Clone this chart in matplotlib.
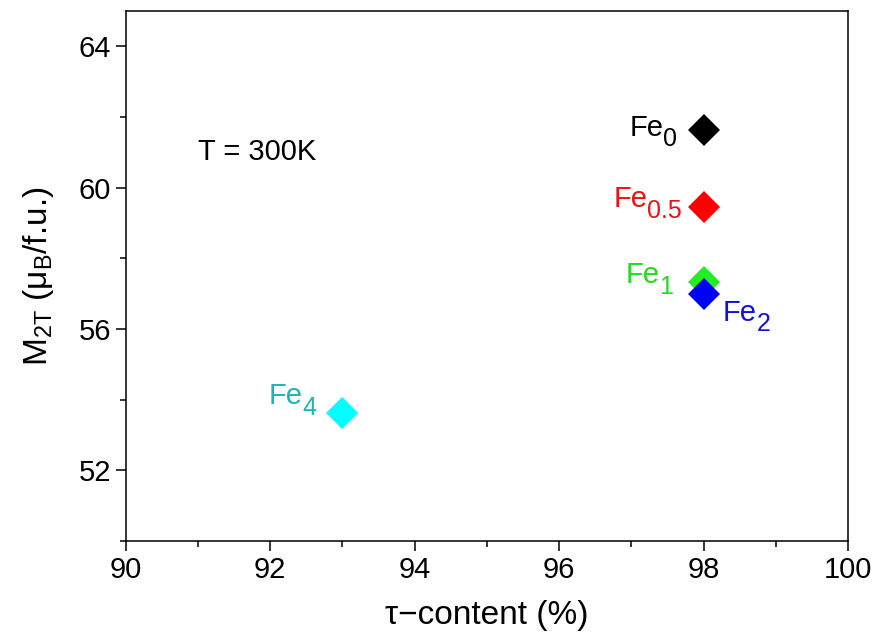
import numpy as np
import matplotlib
matplotlib.use('Agg')
import matplotlib.pyplot as plt
from matplotlib.ticker import MultipleLocator

plt.rcParams['font.family'] = ['Liberation Sans', 'DejaVu Sans']
plt.rcParams['mathtext.default'] = 'regular'
plt.rcParams['mathtext.fontset'] = 'custom'
plt.rcParams['mathtext.rm'] = 'Liberation Sans'

# data
subscripts = ['0', '0.5', '1', '2', '4']
tau_content = [98, 98, 98, 98, 93]
m2t = [61.62, 59.44, 57.33, 56.98, 53.63]
marker_colors = ['#000000', '#ff0000', '#22ee22', '#0000ff', '#00ffff']
text_colors = ['#000000', '#ee1111', '#22dd22', '#1111dd', '#20b4b4']
# where the "Fe" text starts, in points from its marker (left, baseline)
offsets = [(-53, -4), (-65, 0), (-56, -1), (14, -19), (-53, 6)]

fig = plt.figure(figsize=(8.78, 6.38), dpi=100)
ax = fig.add_axes([0.1432, 0.152, 0.8226, 0.8308])

for i in range(len(subscripts)):
    ax.plot(tau_content[i], m2t[i], 'D', color=marker_colors[i], markersize=16.5,
            markeredgewidth=0, zorder=3)
    dx, dy = offsets[i]
    t = ax.annotate('Fe', (tau_content[i], m2t[i]), xytext=(dx, dy), textcoords='offset points',
                    ha='left', va='baseline', fontsize=21, color=text_colors[i])
    ax.annotate(subscripts[i], xy=(1, 0), xycoords=t, xytext=(-0.5, -3), textcoords='offset points',
                ha='left', va='baseline', fontsize=18, color=text_colors[i])

ax.text(91.0, 61.0, 'T = 300K', fontsize=21, va='center', ha='left')

ax.set_xlim(90, 100)
ax.set_ylim(50, 65)
ax.xaxis.set_major_locator(MultipleLocator(2))
ax.xaxis.set_minor_locator(MultipleLocator(1))
ax.yaxis.set_minor_locator(MultipleLocator(2))
ax.set_yticks([52, 56, 60, 64])

ax.tick_params(which='both', direction='out', width=1.1, labelsize=21, top=False, right=False)
ax.tick_params(which='major', length=7)
ax.tick_params(which='minor', length=4.5)
for s in ax.spines.values():
    s.set_linewidth(1.1)

ax.set_xlabel('τ−content (%)', fontsize=24, labelpad=12)
ax.set_ylabel('M$_{2T}$ (μ$_{B}$/f.u.)', fontsize=24, labelpad=16)

fig.savefig('out.png', dpi=100)
